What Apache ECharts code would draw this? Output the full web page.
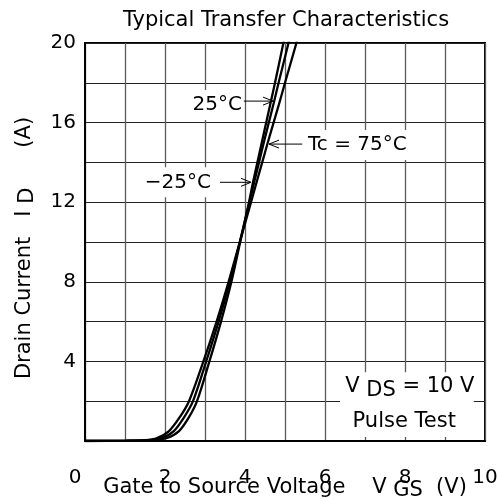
<!DOCTYPE html>
<html>
<head>
<meta charset="utf-8">
<script src="https://cdn.jsdelivr.net/npm/echarts@6/dist/echarts.min.js"></script>
<style>
  html, body { margin: 0; padding: 0; background: #fff; }
  #chart { width: 500px; height: 501px; }
</style>
</head>
<body>
<div id="chart"></div>
<script>
// Drain current I_D (A) versus gate-source voltage V_GS (V), V_DS = 10 V, pulsed
const curveMinus25 = [[0,0],[1.0,0.01],[1.7,0.04],[2.05,0.15],[2.35,0.5],[2.6,1.2],[2.8,2.0],[3.11,4.0],[3.4,6.0],[3.66,8.0],[3.88,10.0],[4.1,12.0],[4.2,13.0],[4.42,15.0],[4.64,17.0],[4.75,18.0],[4.97,20.1]];
const curve25 = [[0,0],[1.0,0.01],[1.6,0.04],[1.92,0.15],[2.22,0.5],[2.48,1.2],[2.7,2.0],[3.03,4.0],[3.34,6.0],[3.62,8.0],[3.87,10.0],[4.11,12.0],[4.35,14.0],[4.47,15.0],[4.72,17.0],[4.84,18.0],[5.1,20.1]];
const curve75 = [[0,0],[1.0,0.01],[1.5,0.04],[1.8,0.15],[2.1,0.5],[2.37,1.2],[2.6,2.0],[2.96,4.0],[3.29,6.0],[3.59,8.0],[3.87,10.0],[4.15,12.0],[4.43,14.0],[4.57,15.0],[4.86,17.0],[5.0,18.0],[5.3,20.1]];

const xTicks = [0, 2, 4, 6, 8, 10];
const yTicks = [4, 8, 12, 16, 20];

// temperature callouts: label edge (V_GS, I_D), arrow tail and head
const tempLabels = [
  { text: '25°C',       at: [3.95, 16.88], side: 'right', from: [3.97, 17.08], to: [4.7, 17.08] },
  { text: 'Tc = 75°C',  at: [5.55, 14.87], side: 'left',  from: [5.43, 14.92], to: [4.6, 14.92] },
  { text: '\u221225°C', at: [3.175, 13.0], side: 'right', from: [3.375, 13.0], to: [4.15, 13.0] }
];

const FONT = '"DejaVu Sans", "Liberation Sans", Arial, sans-serif';
const FS = 20;   // ticks and callouts
const FL = 21;   // title, axis names, note
const chart = echarts.init(document.getElementById('chart'), null, { renderer: 'canvas' });

const lineSeries = (name, data) => ({
  name, type: 'line', data, showSymbol: false, smooth: 0.3,
  clip: true, lineStyle: { color: '#000', width: 2.3 }, z: 5
});

chart.setOption({
  animation: false,
  backgroundColor: '#fff',
  title: {
    text: 'Typical Transfer Characteristics', left: 281, textAlign: 'center', top: 5,
    textStyle: { fontFamily: FONT, fontSize: FL, fontWeight: 'normal', color: '#000' }
  },
  grid: { left: 85, right: 15, top: 43, bottom: 60, outerBoundsMode: 'none',
          show: true, borderColor: '#000', borderWidth: 2 },
  xAxis: {
    type: 'value', min: 0, max: 10, interval: 1,
    axisLine: { show: true, lineStyle: { color: '#000', width: 2 } },
    axisTick: { show: false },
    splitLine: { show: true, lineStyle: { color: '#5a5a5a', width: 1.3 } },
    axisLabel: {
      margin: 27, fontFamily: FONT, fontSize: FS, color: '#000',
      formatter: v => xTicks.includes(v) ? (v === 0 ? '{z|0}' : String(v)) : '',
      rich: { z: { fontFamily: FONT, fontSize: FS, color: '#000', padding: [0, 20, 0, 0] } }
    },
    name: '{t|Gate to Source Voltage    V }{s|GS}{t|  (V)}',
    nameLocation: 'middle', nameGap: 33, nameMoveOverlap: false,
    nameTextStyle: {
      rich: {
        t: { fontFamily: FONT, fontSize: FL, color: '#000' },
        s: { fontFamily: FONT, fontSize: FL, color: '#000', padding: [6, 0, 0, 0] }
      }
    }
  },
  yAxis: {
    type: 'value', min: 0, max: 20, interval: 2,
    axisLine: { show: true, lineStyle: { color: '#000', width: 2 } },
    axisTick: { show: false },
    splitLine: { show: true, lineStyle: { color: '#222', width: 1 } },
    axisLabel: {
      margin: 9, fontFamily: FONT, fontSize: FS, color: '#000',
      formatter: v => yTicks.includes(v) ? String(v) : ''
    },
    name: '{t|Drain Current   I }{s|D}{t|      (A)}',
    nameLocation: 'middle', nameGap: 47, nameMoveOverlap: false,
    nameTextStyle: {
      padding: [0, 12, 0, 0],
      rich: {
        t: { fontFamily: FONT, fontSize: FL, color: '#000' },
        s: { fontFamily: FONT, fontSize: FL, color: '#000', padding: [6, 0, 0, 0] }
      }
    }
  },
  series: [
    lineSeries('-25°C', curveMinus25),
    lineSeries('25°C', curve25),
    lineSeries('75°C', curve75)
  ]
});

// Callouts positioned through the axis scales
const px = p => chart.convertToPixel({ gridIndex: 0 }, p);
const graphics = [];

function arrow(from, to) {
  const a = px(from), b = px(to);
  const dir = Math.sign(b[0] - a[0]);
  graphics.push({ type: 'line', shape: { x1: a[0], y1: a[1], x2: b[0], y2: b[1] },
    style: { stroke: '#000', lineWidth: 1 }, z: 20 });
  graphics.push({ type: 'polyline',
    shape: { points: [[b[0] - dir * 10, b[1] - 4], [b[0], b[1]], [b[0] - dir * 10, b[1] + 4]] },
    style: { stroke: '#000', lineWidth: 1, fill: null }, z: 20 });
}

tempLabels.forEach(l => {
  const p = px(l.at);
  graphics.push({
    type: 'text', x: p[0], y: p[1], z: 20,
    style: {
      text: l.text, font: FS + 'px ' + FONT, fill: '#000',
      align: l.side, verticalAlign: 'middle',
      backgroundColor: '#fff', padding: [5, 1, 5, 1]
    }
  });
  arrow(l.from, l.to);
});

// Test-condition note in the lower right of the plot
const boxTL = px([6.375, 3.45]), boxBR = px([9.72, 0.2]);
graphics.push({ type: 'rect', z: 15,
  shape: { x: boxTL[0], y: boxTL[1], width: boxBR[0] - boxTL[0], height: boxBR[1] - boxTL[1] },
  style: { fill: '#fff', stroke: null } });
const c1 = px([8.12, 2.72]), c2 = px([7.98, 1.0]);
graphics.push({ type: 'text', x: c1[0], y: c1[1], z: 20,
  style: { text: '{t|V }{s|DS}{t| = 10 V}', align: 'center', verticalAlign: 'middle',
    rich: { t: { font: FL + 'px ' + FONT, fill: '#000' },
            s: { font: FL + 'px ' + FONT, fill: '#000', padding: [8, 0, 0, 0] } } } });
graphics.push({ type: 'text', x: c2[0], y: c2[1], z: 20,
  style: { text: 'Pulse Test', font: FL + 'px ' + FONT, fill: '#000', align: 'center', verticalAlign: 'middle' } });

chart.setOption({ graphic: graphics });
</script>
</body>
</html>
